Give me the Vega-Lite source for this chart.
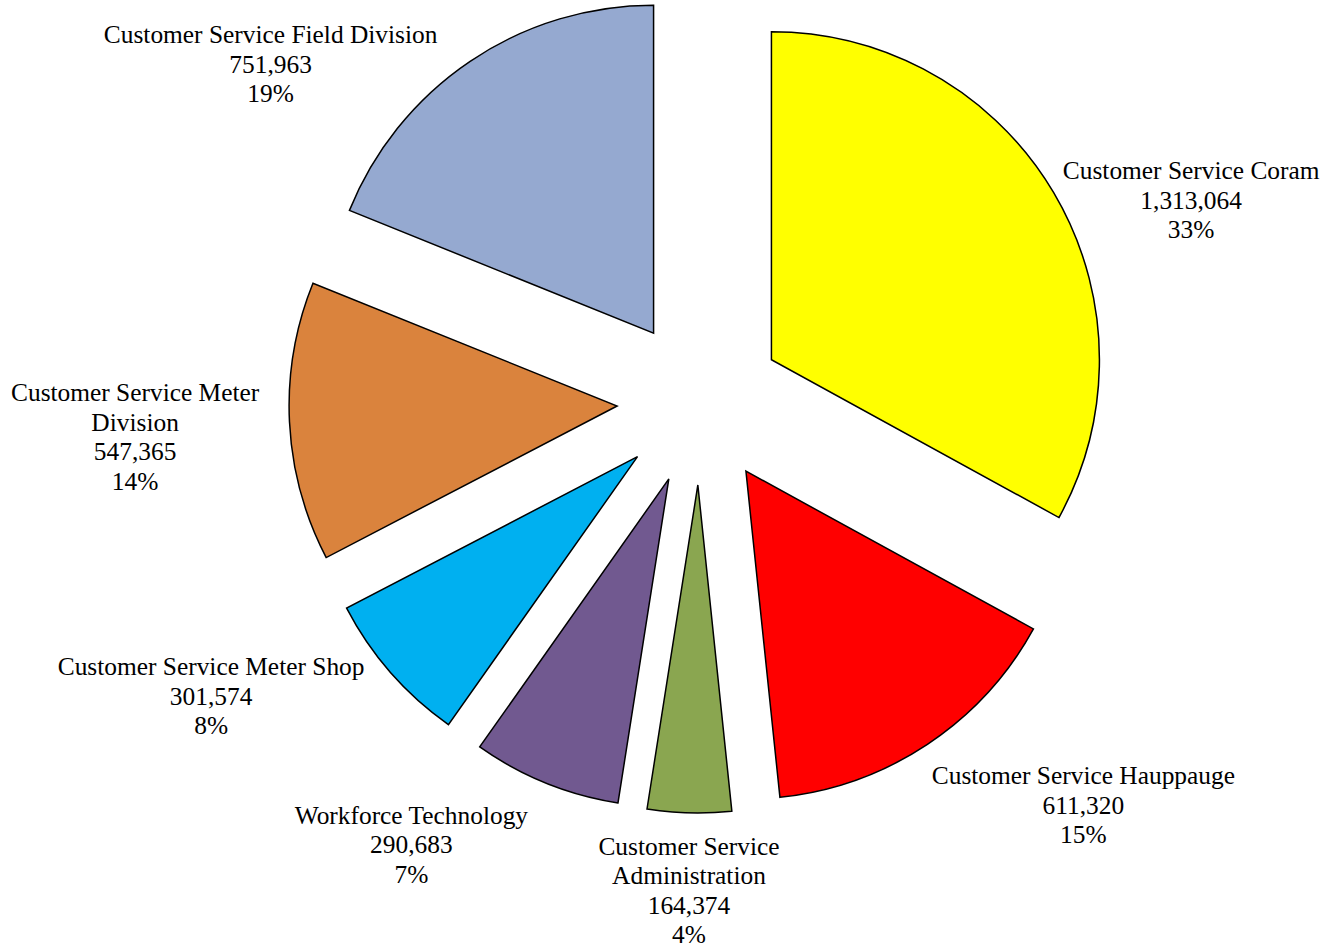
{
  "$schema": "https://vega.github.io/schema/vega-lite/v6.json",
  "autosize": "none",
  "width": 1260,
  "height": 804,
  "padding": {"left": 70, "top": 0, "right": 0, "bottom": 143},
  "background": "white",
  "config": {"view": {"stroke": null}},
  "data": {
    "values": [
      {"rank": 1, "division": "Customer Service Coram", "value": 1313064, "label": "Customer Service Coram\n1,313,064\n33%"},
      {"rank": 2, "division": "Customer Service Hauppauge", "value": 611320, "label": "Customer Service Hauppauge\n611,320\n15%"},
      {"rank": 3, "division": "Customer Service Administration", "value": 164374, "label": "Customer Service\nAdministration\n164,374\n4%"},
      {"rank": 4, "division": "Workforce Technology", "value": 290683, "label": "Workforce Technology\n290,683\n7%"},
      {"rank": 5, "division": "Customer Service Meter Shop", "value": 301574, "label": "Customer Service Meter Shop\n301,574\n8%"},
      {"rank": 6, "division": "Customer Service Meter Division", "value": 547365, "label": "Customer Service Meter\nDivision\n547,365\n14%"},
      {"rank": 7, "division": "Customer Service Field Division", "value": 751963, "label": "Customer Service Field Division\n751,963\n19%"}
    ]
  },
  "encoding": {
    "theta": {"field": "value", "type": "quantitative", "stack": true},
    "order": {"field": "rank", "type": "quantitative", "sort": "ascending"}
  },
  "layer": [
    {
      "mark": {
        "type": "arc",
        "outerRadius": 328,
        "stroke": "black",
        "strokeWidth": 1.5,
        "strokeJoin": "miter",
        "xOffset": {"expr": "83*sin(scale('theta', (datum.value_start + datum.value_end)/2))"},
        "yOffset": {"expr": "-83*cos(scale('theta', (datum.value_start + datum.value_end)/2))"}
      },
      "encoding": {
        "color": {
          "field": "division",
          "type": "nominal",
          "legend": null,
          "scale": {
            "domain": ["Customer Service Coram", "Customer Service Hauppauge", "Customer Service Administration", "Workforce Technology", "Customer Service Meter Shop", "Customer Service Meter Division", "Customer Service Field Division"],
            "range": ["#FFFF00", "#FF0000", "#8AA650", "#715990", "#00B0F0", "#DA833D", "#95A9D0"]
          }
        }
      }
    },
    {
      "mark": {
        "type": "text",
        "radius": 425,
        "font": "Liberation Serif",
        "fontSize": 25.4,
        "lineHeight": 29.5,
        "lineBreak": "\n",
        "color": "black",
        "align": "center",
        "baseline": {"expr": "cos(scale('theta', (datum.value_start + datum.value_end)/2)) < -0.7 ? 'top' : 'middle'"},
        "dx": {"expr": "sin(scale('theta', (datum.value_start + datum.value_end)/2)) > 0.3 ? 11.4 * length(split(datum.label, '\\n')[0]) / 2 : (sin(scale('theta', (datum.value_start + datum.value_end)/2)) < -0.3 ? -15 - 11.4 * length(split(datum.label, '\\n')[0]) / 2 : 0)"},
        "dy": {"expr": "cos(scale('theta', (datum.value_start + datum.value_end)/2)) < -0.7 ? 8 : 15 - (length(split(datum.label, '\\n')) - 1) * 29.5 / 2"}
      },
      "encoding": {
        "text": {"field": "label", "type": "nominal"}
      }
    }
  ]
}
